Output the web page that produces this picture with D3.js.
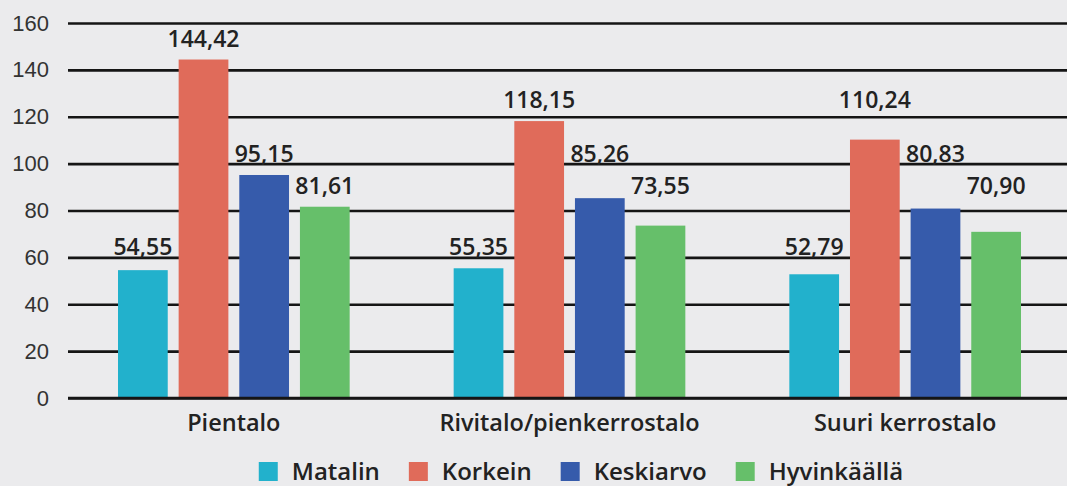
<!DOCTYPE html>
<html>
<head>
<meta charset="utf-8">
<script src="https://cdn.jsdelivr.net/npm/d3@7"></script>
<style>
  body { margin:0; background:#ebebed; }
  svg { display:block; font-family:'Open Sans', 'Noto Sans', sans-serif; }
  .tick text { fill:#333; }
</style>
</head>
<body>
<svg id="chart"></svg>
<script>
var categories = ['Pientalo', 'Rivitalo/pienkerrostalo', 'Suuri kerrostalo'];
var seriesNames = ['Matalin', 'Korkein', 'Keskiarvo', 'Hyvinkäällä'];
var matalin = [54.55, 55.35, 52.79];
var korkein = [144.42, 118.15, 110.24];
var keskiarvo = [95.15, 85.26, 80.83];
var hyvinkaalla = [81.61, 73.55, 70.90];
var yTicks = [0, 20, 40, 60, 80, 100, 120, 140, 160];

var seriesValues = [matalin, korkein, keskiarvo, hyvinkaalla];
var colors = ['#22b1cc', '#e06b5a', '#365bab', '#66bf6a'];

var W = 1067, H = 486;
var svg = d3.select('#chart').attr('width', W).attr('height', H);

var fi = d3.formatLocale({decimal: ',', thousands: ' ', grouping: [3], currency: ['', '€']});
var fmt = fi.format('.2f');

var y = d3.scaleLinear().domain([0, 160]).range([398, 23]);
var x0 = d3.scaleBand().domain(categories).range([66, 1073]);
var x1 = d3.scaleBand().domain(seriesNames).range([52, x0.bandwidth() - 52]).paddingInner(0.18);
var color = d3.scaleOrdinal().domain(seriesNames).range(colors);

// grid + tick labels
var yAxis = svg.append('g')
  .attr('transform', 'translate(68,0)')
  .call(d3.axisLeft(y).tickValues(yTicks).tickSize(-(W - 68)).tickPadding(19));
yAxis.select('.domain').remove();
yAxis.selectAll('.tick line').attr('stroke', '#151515').attr('stroke-width', 2.6);
yAxis.selectAll('.tick text').attr('font-size', 22);

// label rows: values of a series that sit close together share one label row
function labelLevels(vals) {
  var sorted = vals.map(function(v, i) { return {v: v, i: i}; })
    .sort(function(a, b) { return b.v - a.v; });
  var out = [], top = null, prev = null;
  sorted.forEach(function(d) {
    if (prev === null || prev - d.v > 20) top = d.v;
    out[d.i] = top;
    prev = d.v;
  });
  return out;
}

var bars = [];
seriesNames.forEach(function(s, si) {
  var lv = labelLevels(seriesValues[si]);
  categories.forEach(function(c, ci) {
    bars.push({series: s, cat: c, value: seriesValues[si][ci], level: lv[ci]});
  });
});

var groups = svg.append('g');
groups.selectAll('rect')
  .data(bars)
  .enter().append('rect')
    .attr('x', function(d) { return x0(d.cat) + x1(d.series); })
    .attr('y', function(d) { return y(d.value); })
    .attr('width', x1.bandwidth())
    .attr('height', function(d) { return y(0) - y(d.value); })
    .attr('fill', function(d) { return color(d.series); });

// zero line on top
svg.append('line')
  .attr('x1', 68).attr('x2', W)
  .attr('y1', y(0)).attr('y2', y(0))
  .attr('stroke', '#151515').attr('stroke-width', 2.6);

groups.selectAll('text.val')
  .data(bars)
  .enter().append('text')
    .attr('class', 'val')
    .attr('x', function(d) { return x0(d.cat) + x1(d.series) + x1.bandwidth() / 2; })
    .attr('y', function(d) { return y(d.level) - 13; })
    .attr('text-anchor', 'middle')
    .attr('font-size', 23)
    .attr('font-weight', 600)
    .attr('fill', '#222')
    .text(function(d) { return fmt(d.value); });

// category labels
svg.append('g').selectAll('text')
  .data(categories)
  .enter().append('text')
    .attr('x', function(d) { return x0(d) + x0.bandwidth() / 2; })
    .attr('y', 431)
    .attr('text-anchor', 'middle')
    .attr('font-size', 23.5)
    .attr('font-weight', 600)
    .attr('fill', '#222')
    .text(function(d) { return d; });

// legend
var legend = svg.append('g');
var items = legend.selectAll('g')
  .data(seriesNames)
  .enter().append('g');
items.append('rect')
  .attr('width', 19).attr('height', 19)
  .attr('y', 462)
  .attr('fill', function(d) { return color(d); });
items.append('text')
  .attr('x', 33)
  .attr('y', 480)
  .attr('font-size', 24)
  .attr('font-weight', 600)
  .attr('fill', '#222')
  .text(function(d) { return d; });

var pos = 0, offs = [];
items.each(function(d, i) {
  offs.push(pos);
  pos += 33 + d3.select(this).select('text').node().getComputedTextLength() + 29;
});
var total = pos - 29;
var start = 581 - total / 2;
items.attr('transform', function(d, i) { return 'translate(' + (start + offs[i]) + ',0)'; });
</script>
</body>
</html>
